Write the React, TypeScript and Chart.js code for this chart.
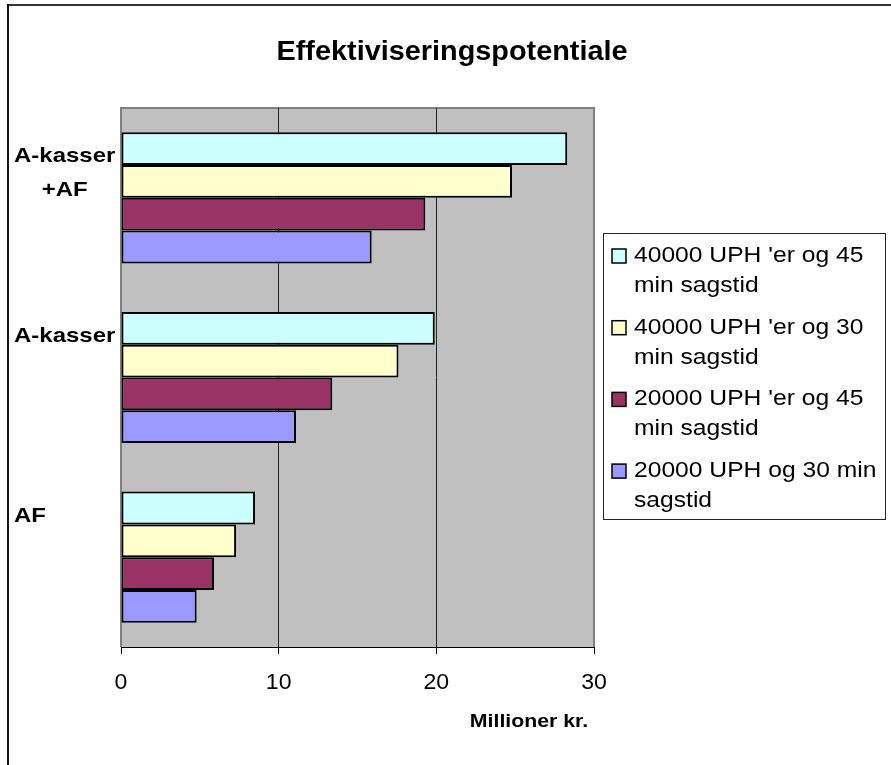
import { useEffect, useRef } from "react";
import { Chart, registerables } from "chart.js";

Chart.register(...registerables);

// Categories (top to bottom) and the series values in millions of kroner
const categoryLabels: string[][] = [["A-kasser", "+AF"], ["A-kasser"], ["AF"]];
const seriesLabels: string[][] = [
  ["40000 UPH 'er og 45", "min sagstid"],
  ["40000 UPH 'er og 30", "min sagstid"],
  ["20000 UPH 'er og 45", "min sagstid"],
  ["20000 UPH og 30 min", "sagstid"],
];
const uph40000min45 = [28.3, 19.9, 8.5];
const uph40000min30 = [24.8, 17.6, 7.3];
const uph20000min45 = [19.3, 13.4, 5.9];
const uph20000min30 = [15.9, 11.1, 4.8];
const seriesColors = ["#CCFFFF", "#FFFFCC", "#993366", "#9999FF"];
const xMin = 0;
const xMax = 30;
const xStep = 10;
const titleText = "Effektiviseringspotentiale";
const xAxisTitle = "Millioner kr.";

const FONT = "'Liberation Sans', Arial, sans-serif";

function drawText(
  ctx: CanvasRenderingContext2D,
  text: string,
  x: number,
  y: number,
  font: string,
  align: CanvasTextAlign,
  sx: number
) {
  ctx.save();
  ctx.font = font;
  ctx.textBaseline = "middle";
  ctx.textAlign = align;
  ctx.fillStyle = "#000";
  ctx.translate(x, y);
  ctx.scale(sx, 1);
  ctx.fillText(text, 0, 0);
  ctx.restore();
}

const backdropPlugin = {
  id: "backdrop",
  beforeDraw(chart: any) {
    const { ctx, chartArea: a, width, height } = chart;
    ctx.save();
    ctx.fillStyle = "#fff";
    ctx.fillRect(0, 0, width, height);
    // outer frame (top and left edges)
    ctx.fillStyle = "#333";
    ctx.fillRect(8, 4, width - 8, 2);
    ctx.fillStyle = "#111";
    ctx.fillRect(7, 4, 2, height - 4);
    // plot area
    ctx.fillStyle = "#C0C0C0";
    ctx.fillRect(a.left, a.top, a.right - a.left, a.bottom - a.top);
    ctx.fillStyle = "#808080";
    ctx.fillRect(a.left - 1, a.top - 1, a.right - a.left + 2, 2);
    ctx.fillRect(a.left - 1, a.top - 1, 2, a.bottom - a.top + 1);
    ctx.fillRect(a.right - 1, a.top - 1, 2, a.bottom - a.top + 1);
    ctx.restore();
  },
};

const annotationsPlugin = {
  id: "annotations",
  afterDraw(chart: any) {
    const { ctx, chartArea: a } = chart;
    const xScale = chart.scales.x;
    const yScale = chart.scales.y;

    // title
    drawText(ctx, titleText, 452, 52, `bold 28px ${FONT}`, "center", 1.03);

    // x tick labels
    xScale.ticks.forEach((t: any) => {
      drawText(ctx, String(t.value), xScale.getPixelForValue(t.value), a.bottom + 36, `22px ${FONT}`, "center", 1.05);
    });

    // x axis title
    drawText(ctx, xAxisTitle, 529, a.bottom + 75, `bold 19px ${FONT}`, "center", 1.12);

    // category labels
    const catFont = `bold 20.5px ${FONT}`;
    const catSx = 1.17;
    categoryLabels.forEach((lines, i) => {
      const cy = yScale.getPixelForValue(i);
      ctx.save();
      ctx.font = catFont;
      const blockW = Math.max(...lines.map((l) => ctx.measureText(l).width)) * catSx;
      ctx.restore();
      lines.forEach((line, k) => {
        drawText(ctx, line, 14 + blockW / 2, cy - 41 + k * 34, catFont, "center", catSx);
      });
    });

    // legend
    const lx = a.right + 9;
    const ly = 233;
    ctx.save();
    ctx.fillStyle = "#fff";
    ctx.fillRect(lx, ly, 283, 287);
    ctx.strokeStyle = "#222";
    ctx.lineWidth = 1;
    ctx.strokeRect(lx + 0.5, ly + 0.5, 282, 286);
    ctx.restore();
    seriesLabels.forEach((lines, i) => {
      const y0 = ly + 23 + i * 71.7;
      ctx.save();
      ctx.fillStyle = seriesColors[i];
      ctx.fillRect(lx + 9, y0 - 7, 14, 14);
      ctx.strokeStyle = "#000";
      ctx.lineWidth = 1.5;
      ctx.strokeRect(lx + 9, y0 - 7, 14, 14);
      ctx.restore();
      lines.forEach((line, k) => {
        drawText(ctx, line, lx + 31, y0 + k * 30, `22px ${FONT}`, "left", 1.12);
      });
    });
  },
};

export default function App() {
  const canvasRef = useRef<HTMLCanvasElement>(null);

  useEffect(() => {
    const seriesValues = [uph40000min45, uph40000min30, uph20000min45, uph20000min30];
    const chart = new Chart(canvasRef.current!, {
      type: "bar",
      data: {
        labels: categoryLabels.map((l) => l.join(" ")),
        datasets: seriesValues.map((values, i) => ({
          label: seriesLabels[i].join(" "),
          data: values,
          backgroundColor: seriesColors[i],
          borderColor: "#000",
          borderWidth: 2,
          borderSkipped: false,
          categoryPercentage: 0.73,
          barPercentage: 1,
        })),
      },
      options: {
        indexAxis: "y",
        responsive: false,
        animation: false,
        devicePixelRatio: 1,
        layout: { padding: { left: 0, top: 108, right: 297, bottom: 0 } },
        plugins: {
          legend: { display: false },
          title: { display: false },
          tooltip: { enabled: false },
        },
        scales: {
          x: {
            type: "linear",
            min: xMin,
            max: xMax,
            ticks: { stepSize: xStep, color: "rgba(0,0,0,0)", font: { size: 20 } },
            grid: {
              color: (c: any) =>
                c.tick && c.tick.value > xMin && c.tick.value < xMax ? "#222" : "rgba(0,0,0,0)",
              tickColor: "#000",
              tickLength: 7,
              lineWidth: 1,
            },
            border: { display: true, color: "#000", width: 1 },
            afterFit: (s: any) => {
              s.height = 118;
            },
          },
          y: {
            type: "category",
            grid: { display: false },
            border: { display: false },
            ticks: { display: false },
            afterFit: (s: any) => {
              s.width = 121;
            },
          },
        },
      },
      plugins: [backdropPlugin, annotationsPlugin],
    } as any);
    return () => chart.destroy();
  }, []);

  return (
    <div style={{ position: "absolute", left: 0, top: 0, width: 891, height: 765, background: "#fff" }}>
      <canvas ref={canvasRef} width={891} height={765} style={{ display: "block" }} />
    </div>
  );
}
